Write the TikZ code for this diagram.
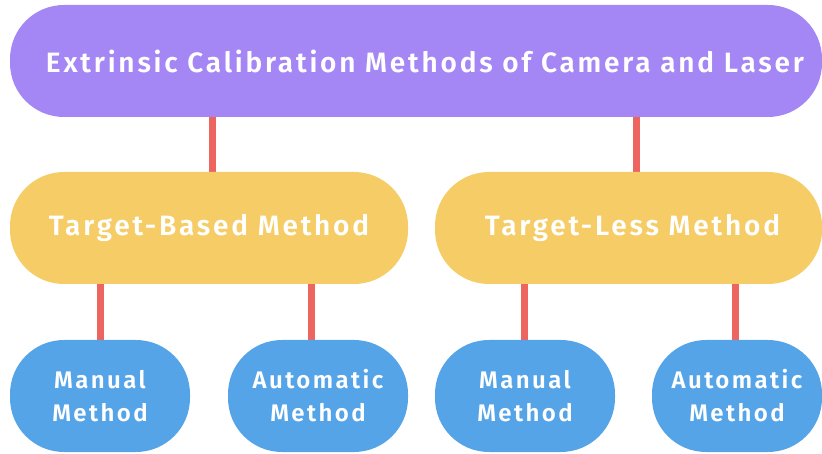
\documentclass[tikz,border=0pt]{standalone}
\usepackage{fontspec}
\setmainfont{Fira Sans}[BoldFont={Fira Sans SemiBold}, LetterSpace=10]
\usetikzlibrary{backgrounds}
\definecolor{cpurple}{HTML}{A486F4}
\definecolor{cyellow}{HTML}{F5CC65}
\definecolor{cblue}{HTML}{56A4E8}
\definecolor{cred}{HTML}{EE6560}
\begin{document}
\begin{tikzpicture}[x=1pt,y=-1pt,
  box/.style={rounded corners=54pt, inner sep=0pt, align=center, text=white, minimum height=112pt},
  rootbox/.style={box, fill=cpurple, font=\fontsize{28}{32}\selectfont\bfseries},
  midbox/.style={box, fill=cyellow, font=\fontsize{28}{32}\selectfont\bfseries},
  leafbox/.style={box, fill=cblue, minimum width=180pt, font=\fontsize{24}{33}\selectfont\bfseries},
  link/.style={draw=cred, line width=7pt, line cap=round}]
\useasboundingbox (0,0) rectangle (822,454);
\node[rootbox, minimum width=812pt] (root) at (416,61) {\hspace*{18pt}Extrinsic Calibration Methods of Camera and Laser};
\node[midbox, minimum width=398pt] (tb) at (209,228) {Target-Based Method};
\node[midbox, minimum width=387pt] (tl) at (628.5,228) {\hspace*{8pt}Target-Less Method};
\node[leafbox] (m1) at (100,396) {Manual\\Method};
\node[leafbox] (a1) at (318,396) {Automatic\\Method};
\node[leafbox] (m2) at (525,396) {Manual\\Method};
\node[leafbox, minimum width=170pt] (a2) at (737,396) {Automatic\\Method};
\begin{scope}[on background layer]
\draw[link] ([xshift=3pt]tb.north |- root.south) -- ([xshift=3pt]tb.north);
\draw[link] ([xshift=7.5pt]tl.north |- root.south) -- ([xshift=7.5pt]tl.north);
\draw[link] (m1.north |- tb.south) -- (m1.north);
\draw[link] ([xshift=-7pt]a1.north |- tb.south) -- ([xshift=-7pt]a1.north);
\draw[link] ([xshift=-1pt]m2.north |- tl.south) -- ([xshift=-1pt]m2.north);
\draw[link] ([xshift=-2pt]a2.north |- tl.south) -- ([xshift=-2pt]a2.north);
\end{scope}
\end{tikzpicture}
\end{document}
